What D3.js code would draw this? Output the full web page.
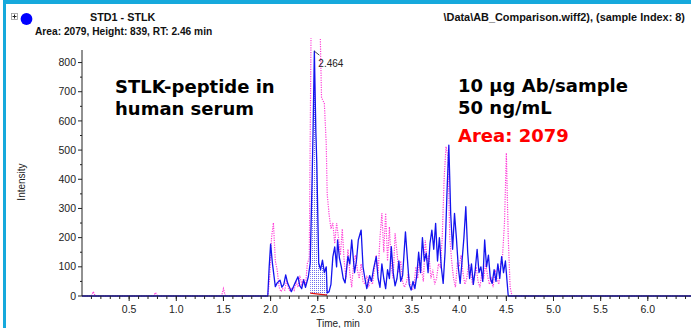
<!DOCTYPE html>
<html>
<head>
<meta charset="utf-8">
<script src="https://cdn.jsdelivr.net/npm/d3@7"></script>
<style>
  html, body { margin: 0; padding: 0; background: #fff; }
  svg { display: block; }
</style>
</head>
<body>
<svg id="chart" width="691" height="328"></svg>
<script>
// XIC trace for STLK (blue, solid) and overlay trace (magenta, dotted)
const blueTime = [0, 1.97, 1.985, 2.00, 2.02, 2.05, 2.07, 2.10, 2.12, 2.14, 2.16, 2.18, 2.20, 2.22, 2.24, 2.26, 2.29, 2.31, 2.33, 2.35, 2.37, 2.40, 2.42, 2.44, 2.45, 2.464, 2.48, 2.49, 2.51, 2.53, 2.55, 2.57, 2.59, 2.60, 2.62, 2.64, 2.66, 2.68, 2.70, 2.71, 2.73, 2.75, 2.77, 2.79, 2.82, 2.84, 2.86, 2.89, 2.91, 2.93, 2.96, 2.98, 3.00, 3.02, 3.05, 3.07, 3.09, 3.12, 3.14, 3.16, 3.18, 3.20, 3.22, 3.24, 3.26, 3.28, 3.30, 3.32, 3.34, 3.36, 3.38, 3.40, 3.43, 3.45, 3.47, 3.49, 3.51, 3.53, 3.55, 3.57, 3.59, 3.61, 3.63, 3.65, 3.67, 3.69, 3.71, 3.73, 3.75, 3.77, 3.79, 3.81, 3.83, 3.85, 3.87, 3.89, 3.91, 3.93, 3.95, 3.97, 3.99, 4.01, 4.03, 4.05, 4.07, 4.09, 4.11, 4.13, 4.15, 4.17, 4.19, 4.21, 4.23, 4.25, 4.27, 4.29, 4.31, 4.33, 4.35, 4.37, 4.39, 4.41, 4.43, 4.45, 4.47, 4.49, 4.51, 4.52, 6.46];
const blueIntensity = [0, 0, 100, 178, 110, 32, 45, 54, 30, 40, 72, 45, 30, 15, 30, 45, 66, 35, 25, 55, 30, 66, 113, 400, 560, 839, 560, 455, 113, 90, 123, 80, 100, 10, 15, 40, 134, 168, 100, 192, 130, 100, 60, 45, 136, 110, 192, 80, 120, 192, 226, 100, 60, 25, 70, 50, 90, 135, 60, 30, 110, 60, 25, 90, 60, 169, 80, 35, 60, 120, 50, 70, 220, 130, 40, 20, 50, 25, 70, 150, 80, 200, 120, 147, 80, 180, 226, 160, 249, 120, 200, 100, 43, 150, 350, 517, 280, 160, 283, 200, 100, 43, 120, 200, 306, 150, 60, 110, 40, 90, 160, 80, 100, 50, 192, 100, 140, 60, 43, 90, 50, 110, 60, 135, 80, 120, 40, 0, 0];

const pinkTime = [0, 0.10, 0.12, 0.14, 0.76, 0.78, 0.80, 1.48, 1.50, 1.52, 1.97, 1.99, 2.01, 2.03, 2.05, 2.07, 2.09, 2.11, 2.13, 2.15, 2.17, 2.19, 2.21, 2.23, 2.25, 2.27, 2.29, 2.31, 2.33, 2.35, 2.37, 2.39, 2.41, 2.43, 2.46, 2.49, 2.52, 2.54, 2.57, 2.59, 2.60, 2.62, 2.64, 2.66, 2.68, 2.70, 2.72, 2.74, 2.76, 2.78, 2.80, 2.82, 2.84, 2.86, 2.88, 2.90, 2.92, 2.94, 2.96, 2.98, 3.00, 3.02, 3.04, 3.06, 3.08, 3.10, 3.12, 3.14, 3.16, 3.18, 3.20, 3.22, 3.24, 3.26, 3.28, 3.30, 3.32, 3.34, 3.36, 3.38, 3.40, 3.42, 3.44, 3.46, 3.48, 3.50, 3.52, 3.54, 3.56, 3.58, 3.60, 3.62, 3.64, 3.66, 3.68, 3.70, 3.72, 3.74, 3.76, 3.78, 3.80, 3.82, 3.84, 3.86, 3.88, 3.90, 3.92, 3.94, 3.96, 3.98, 4.00, 4.02, 4.04, 4.06, 4.08, 4.10, 4.12, 4.14, 4.16, 4.18, 4.20, 4.22, 4.24, 4.26, 4.28, 4.30, 4.32, 4.34, 4.36, 4.38, 4.40, 4.42, 4.44, 4.46, 4.48, 4.50, 4.52, 4.54, 4.56, 6.46];
const pinkIntensity = [0, 0, 15, 0, 0, 12, 0, 0, 25, 0, 0, 60, 200, 251, 120, 89, 30, 15, 25, 20, 55, 25, 15, 30, 20, 50, 30, 70, 40, 60, 35, 112, 130, 950, 1000, 960, 1000, 680, 660, 520, 350, 280, 230, 250, 180, 250, 200, 140, 230, 120, 60, 160, 80, 30, 110, 140, 90, 60, 110, 50, 40, 70, 30, 60, 40, 90, 140, 80, 200, 284, 150, 284, 120, 237, 100, 60, 215, 150, 80, 120, 50, 30, 45, 80, 40, 20, 30, 100, 60, 130, 90, 50, 192, 120, 140, 60, 90, 40, 60, 110, 100, 200, 400, 512, 480, 200, 120, 60, 30, 110, 100, 140, 80, 40, 60, 110, 90, 40, 60, 100, 50, 30, 80, 60, 110, 70, 40, 60, 30, 90, 60, 40, 110, 140, 250, 490, 200, 30, 0, 0];

// integrated peak window and its baseline
const peakStart = 2.42, peakEnd = 2.60;
const baselineIntensity = [10, 3];
const peakRT = 2.464;

const yTicks = [0, 100, 200, 300, 400, 500, 600, 700, 800];
const xTicks = [0.5, 1.0, 1.5, 2.0, 2.5, 3.0, 3.5, 4.0, 4.5, 5.0, 5.5, 6.0];

const svg = d3.select("#chart");
const frame = "#16a9dc";

const plot = { left: 82, right: 691, top: 38, axisTop: 50, bottom: 296 };
const x = d3.scaleLinear().domain([0, 6.458]).range([plot.left, plot.right]);
const y = d3.scaleLinear().domain([0, 843]).range([plot.bottom, plot.axisTop]);

// window frame
svg.append("rect").attr("x", 3).attr("y", 0).attr("width", 688).attr("height", 4).attr("fill", frame);
svg.append("rect").attr("x", 3).attr("y", 0).attr("width", 3).attr("height", 328).attr("fill", frame);

// header
svg.append("rect").attr("x", 11.5).attr("y", 13.5).attr("width", 6).attr("height", 6)
  .attr("fill", "#fff").attr("stroke", "#999").attr("stroke-width", 0.8);
svg.append("path").attr("d", "M12.5,16.5H16.5M14.5,14.5V18.5").attr("stroke", "#222").attr("stroke-width", 1);
svg.append("circle").attr("cx", 26.5).attr("cy", 19).attr("r", 5.9).attr("fill", "#0000ff");

const uiFont = "'Liberation Sans', Arial, sans-serif";
svg.append("text").attr("x", 90).attr("y", 21).attr("font-family", uiFont).attr("font-size", 10.8)
  .attr("font-weight", "bold").attr("fill", "#111").text("STD1 - STLK");
svg.append("text").attr("x", 35).attr("y", 35).attr("font-family", uiFont).attr("font-size", 10.2)
  .attr("font-weight", "bold").attr("fill", "#111").text("Area: 2079, Height: 839, RT: 2.46 min");
svg.append("text").attr("x", 685).attr("y", 21).attr("text-anchor", "end").attr("font-family", uiFont)
  .attr("font-size", 10.9).attr("font-weight", "bold").attr("fill", "#111")
  .text("\\Data\\AB_Comparison.wiff2), (sample Index: 8)");

// clip for traces
svg.append("defs").append("clipPath").attr("id", "plotClip")
  .append("rect").attr("x", plot.left).attr("y", plot.top)
  .attr("width", plot.right - plot.left).attr("height", plot.bottom - plot.top + 1);

const pat = svg.select("defs").append("pattern").attr("id", "dots")
  .attr("width", 2).attr("height", 2).attr("patternUnits", "userSpaceOnUse");
pat.append("rect").attr("width", 2).attr("height", 2).attr("fill", "#fff");
pat.append("rect").attr("width", 1).attr("height", 1).attr("fill", "#4a4ae8");

const g = svg.append("g").attr("clip-path", "url(#plotClip)");

// peak fill between trace and baseline
const blue = blueTime.map((t, i) => ({ t, v: blueIntensity[i] }));
const pink = pinkTime.map((t, i) => ({ t, v: pinkIntensity[i] }));
const interp = (arr, t) => {
  for (let i = 1; i < arr.length; i++) {
    if (arr[i].t >= t) {
      const a = arr[i - 1], b = arr[i];
      return a.v + (b.v - a.v) * (t - a.t) / (b.t - a.t);
    }
  }
  return 0;
};
const base = t => baselineIntensity[0] + (baselineIntensity[1] - baselineIntensity[0]) * (t - peakStart) / (peakEnd - peakStart);
const peakPts = [{ t: peakStart, v: interp(blue, peakStart) }]
  .concat(blue.filter(d => d.t > peakStart && d.t < peakEnd))
  .concat([{ t: peakEnd, v: interp(blue, peakEnd) }]);
g.append("path").datum(peakPts)
  .attr("d", d3.area().x(d => x(d.t)).y0(d => y(base(d.t))).y1(d => y(d.v)))
  .attr("fill", "url(#dots)").attr("opacity", 0.8);

const line = d3.line().x(d => x(d.t)).y(d => y(d.v));
g.append("path").datum(pink).attr("d", line).attr("fill", "none")
  .attr("stroke", "#ff3fd8").attr("stroke-width", 1.2).attr("stroke-dasharray", "1.2,1.2");
g.append("path").datum(blue).attr("d", line).attr("fill", "none")
  .attr("stroke", "#1414ee").attr("stroke-width", 1.3).attr("stroke-linejoin", "round");

// integration baseline
g.append("line").attr("x1", x(peakStart)).attr("x2", x(peakEnd))
  .attr("y1", y(baselineIntensity[0])).attr("y2", y(baselineIntensity[1]))
  .attr("stroke", "#e01010").attr("stroke-width", 1.2);

// apex marker and label
const apexX = x(peakRT), apexY = y(839);
svg.append("path").attr("d", `M${apexX},${apexY}L${apexX + 5},${apexY + 4}`)
  .attr("stroke", "#333").attr("stroke-width", 0.9).attr("fill", "none");
svg.append("text").attr("x", apexX + 4).attr("y", apexY + 16).attr("font-family", uiFont)
  .attr("font-size", 10).attr("fill", "#222").text(peakRT.toFixed(3));

// axes
const axisColor = "#222";
const yAxis = svg.append("g");
yAxis.append("line").attr("x1", plot.left).attr("x2", plot.left).attr("y1", plot.axisTop).attr("y2", plot.bottom)
  .attr("stroke", axisColor).attr("stroke-width", 1);
yAxis.selectAll("line.minor").data(d3.range(50, 850, 100)).join("line").attr("class", "minor")
  .attr("x1", plot.left - 2).attr("x2", plot.left).attr("y1", d => y(d)).attr("y2", d => y(d))
  .attr("stroke", axisColor);
yAxis.selectAll("line.major").data(yTicks).join("line").attr("class", "major")
  .attr("x1", plot.left - 4).attr("x2", plot.left).attr("y1", d => y(d)).attr("y2", d => y(d))
  .attr("stroke", axisColor);
yAxis.selectAll("text").data(yTicks).join("text")
  .attr("x", plot.left - 6).attr("y", d => y(d)).attr("dy", "0.35em").attr("text-anchor", "end")
  .attr("font-family", uiFont).attr("font-size", 10.5).attr("fill", "#222").text(d => d);

const xAxis = svg.append("g");
xAxis.append("line").attr("x1", plot.left).attr("x2", plot.right).attr("y1", plot.bottom).attr("y2", plot.bottom)
  .attr("stroke", axisColor);
xAxis.selectAll("line.minor").data(d3.range(1, 65).map(i => i / 10)).join("line").attr("class", "minor")
  .attr("x1", d => x(d)).attr("x2", d => x(d)).attr("y1", plot.bottom).attr("y2", plot.bottom + 3)
  .attr("stroke", axisColor);
xAxis.selectAll("line.major").data(xTicks).join("line").attr("class", "major")
  .attr("x1", d => x(d)).attr("x2", d => x(d)).attr("y1", plot.bottom).attr("y2", plot.bottom + 5)
  .attr("stroke", axisColor);
xAxis.selectAll("text").data(xTicks).join("text")
  .attr("x", d => x(d)).attr("y", 313).attr("text-anchor", "middle")
  .attr("font-family", uiFont).attr("font-size", 10.5).attr("fill", "#222").text(d => d.toFixed(1));

svg.append("text").attr("x", 338).attr("y", 327).attr("text-anchor", "middle")
  .attr("font-family", uiFont).attr("font-size", 10).attr("fill", "#222").text("Time, min");
svg.append("text").attr("transform", "translate(25,182) rotate(-90)").attr("text-anchor", "middle")
  .attr("font-family", uiFont).attr("font-size", 10).attr("fill", "#222").text("Intensity");

// annotations
const noteFont = "'DejaVu Sans', Verdana, sans-serif";
const note = (tx, ty, s, color) => svg.append("text").attr("x", tx).attr("y", ty)
  .attr("font-family", noteFont).attr("font-weight", "bold").attr("font-size", 18)
  .attr("fill", color).text(s);
note(115, 93, "STLK-peptide in", "#000");
note(115, 115, "human serum", "#000");
note(458, 92, "10 μg Ab/sample", "#000");
note(458, 114, "50 ng/mL", "#000");
note(458, 142, "Area: 2079", "#ff0000");
</script>
</body>
</html>
